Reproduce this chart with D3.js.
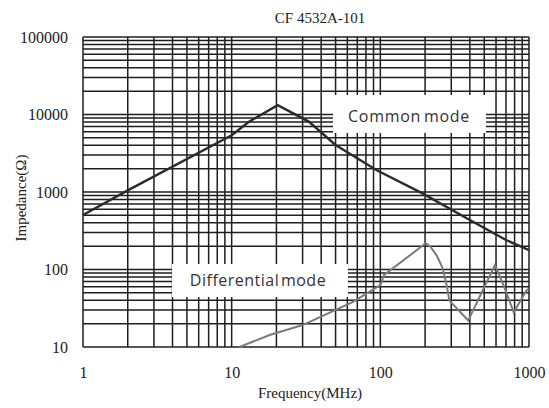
<!DOCTYPE html>
<html><head><meta charset="utf-8">
<script src="https://cdn.jsdelivr.net/npm/d3@7"></script>
<style>body{margin:0;background:#fff}</style>
</head><body>
<svg id="c" width="549" height="408"></svg>
<script>
const title = "CF 4532A-101";
const xLabel = "Frequency(MHz)";
const yLabel = "Impedance(Ω)";
const xTickLabels = [1, 10, 100, 1000];
const yTickLabels = [10, 100, 1000, 10000, 100000];
const commonFreq = [1, 2, 10, 13, 20.4, 33, 50, 94, 192, 400, 700, 1000];
const commonZ    = [505, 1050, 5400, 8000, 13200, 8100, 4050, 1920, 960, 435, 240, 178];
const diffFreq = [11.3, 18, 30, 65, 100, 106, 202, 218, 240, 262, 280, 291, 390, 590, 680, 790, 950, 985];
const diffZ    = [10, 14.3, 19.2, 38, 63, 85, 218, 195, 150, 105, 62, 40, 22, 114, 60, 28, 52, 56];
const commonName = "Common mode";
const diffName = "Differential mode";

const svg = d3.select("#c");
const L = 83, R = 529, T = 37, B = 347;
const x = d3.scaleLog().domain([1, 1000]).range([L, R]);
const y = d3.scaleLog().domain([10, 100000]).range([B, T]);

const grid = svg.append("g").attr("stroke", "#1e1e1e").attr("stroke-width", 1.5);
grid.selectAll("line.v").data(x.ticks()).join("line")
  .attr("x1", d => x(d)).attr("x2", d => x(d)).attr("y1", T).attr("y2", B);
grid.selectAll("line.h").data(y.ticks()).join("line")
  .attr("y1", d => y(d)).attr("y2", d => y(d)).attr("x1", L).attr("x2", R);

// label boxes
svg.append("rect").attr("x", 333).attr("y", 95).attr("width", 153).attr("height", 38).attr("fill", "#fff");
svg.append("rect").attr("x", 172).attr("y", 264).attr("width", 176).attr("height", 33).attr("fill", "#fff");

const line = d3.line().x(d => x(d[0])).y(d => y(d[1]));
svg.append("path").datum(commonFreq.map((f, i) => [f, commonZ[i]]))
  .attr("d", line).attr("fill", "none").attr("stroke", "#2b2b2b").attr("stroke-width", 2.4);
svg.append("path").datum(diffFreq.map((f, i) => [f, diffZ[i]]))
  .attr("d", line).attr("fill", "none").attr("stroke", "#7a7a7a").attr("stroke-width", 2);

svg.append("text").attr("x", 409).attr("y", 122).attr("text-anchor", "middle")
  .attr("font-family", "Open Sans").attr("font-size", 16).attr("letter-spacing", 0.7).attr("word-spacing", -2)
  .attr("fill", "#333").text(commonName);
svg.append("text").attr("x", 258).attr("y", 286).attr("text-anchor", "middle")
  .attr("font-family", "Open Sans").attr("font-size", 16).attr("letter-spacing", 0.5).attr("word-spacing", -3)
  .attr("fill", "#333").text(diffName);

const serif = "Liberation Serif";
const xa = svg.append("g").attr("transform", `translate(0,${B})`)
  .call(d3.axisBottom(x).tickValues(xTickLabels).tickFormat(d3.format("d")).tickSize(0).tickPadding(20));
const ya = svg.append("g").attr("transform", `translate(${L},0)`)
  .call(d3.axisLeft(y).tickValues(yTickLabels).tickFormat(d3.format("d")).tickSize(0).tickPadding(15));
[xa, ya].forEach(a => {
  a.select(".domain").remove();
  a.selectAll("text").attr("font-family", serif).attr("font-size", 16).attr("fill", "#222");
});

svg.append("text").attr("x", 320).attr("y", 23).attr("text-anchor", "middle")
  .attr("font-family", serif).attr("font-size", 15).attr("fill", "#222").text(title);
svg.append("text").attr("x", 310).attr("y", 398).attr("text-anchor", "middle")
  .attr("font-family", serif).attr("font-size", 15).attr("fill", "#222").text(xLabel);
svg.append("text").attr("transform", "translate(26,198) rotate(-90)").attr("text-anchor", "middle")
  .attr("font-family", serif).attr("font-size", 15).attr("fill", "#222").text(yLabel);
</script>
</body></html>
